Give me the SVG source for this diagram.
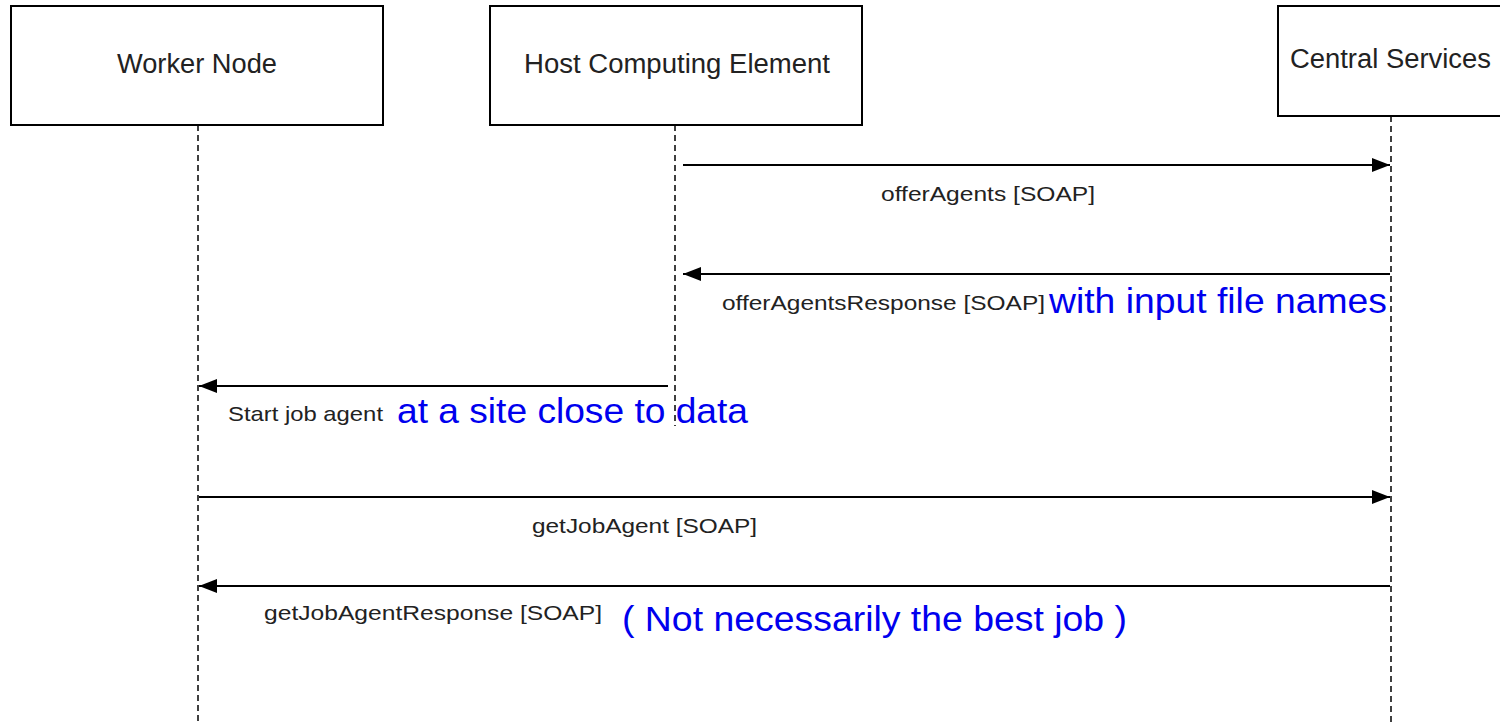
<svg xmlns="http://www.w3.org/2000/svg" width="1500" height="723" viewBox="0 0 1500 723">
<style>
.box{fill:#fff;stroke:#000;stroke-width:2}
.life{stroke:#000;stroke-width:1.5;stroke-dasharray:6 4;fill:none}
.msg{stroke:#000;stroke-width:2;fill:none}
.title{font-family:"Liberation Sans",Arial,sans-serif;font-size:27px;fill:#222}
.lbl{font-family:"Liberation Sans",Arial,sans-serif;font-size:21px;fill:#222}
.note{font-family:"Liberation Sans",Arial,sans-serif;font-size:35px;fill:#0000ee}
</style>
<defs>
<marker id="ah" viewBox="0 0 18 14" refX="18" refY="7" markerWidth="18" markerHeight="14" markerUnits="userSpaceOnUse" orient="auto">
<path d="M0,0 L18,7 L0,14 Z" fill="#000"/>
</marker>
</defs>
<rect width="1500" height="723" fill="#fff"/>
<g id="lifelines">
<line class="life" x1="198" y1="125" x2="198" y2="723"/>
<line class="life" x1="675" y1="125" x2="675" y2="426"/>
<line class="life" x1="1391" y1="116" x2="1391" y2="723"/>
</g>
<g id="worker-node">
<rect class="box" x="11" y="6" width="372" height="119"/>
<text class="title" x="197" y="73" text-anchor="middle" textLength="160" lengthAdjust="spacingAndGlyphs">Worker Node</text>
</g>
<g id="host-ce">
<rect class="box" x="490" y="6" width="372" height="119"/>
<text class="title" x="677" y="73" text-anchor="middle" textLength="306" lengthAdjust="spacingAndGlyphs">Host Computing Element</text>
</g>
<g id="central-services">
<rect class="box" x="1278" y="6" width="240" height="110"/>
<text class="title" x="1290" y="68" textLength="201" lengthAdjust="spacingAndGlyphs">Central Services</text>
</g>
<g id="connectors">
<line class="msg" x1="683" y1="165" x2="1390" y2="165" marker-end="url(#ah)"/>
<line class="msg" x1="1390" y1="274" x2="683" y2="274" marker-end="url(#ah)"/>
<line class="msg" x1="668" y1="386" x2="199" y2="386" marker-end="url(#ah)"/>
<line class="msg" x1="199" y1="497" x2="1390" y2="497" marker-end="url(#ah)"/>
<line class="msg" x1="1390" y1="586" x2="199" y2="586" marker-end="url(#ah)"/>
</g>
<g id="labels">
<text class="lbl" x="881" y="201" textLength="214" lengthAdjust="spacingAndGlyphs">offerAgents [SOAP]</text>
<text class="lbl" x="722" y="310" textLength="323" lengthAdjust="spacingAndGlyphs">offerAgentsResponse [SOAP]</text>
<text class="note" x="1049" y="313" textLength="338" lengthAdjust="spacingAndGlyphs">with input file names</text>
<text class="lbl" x="228" y="421" textLength="155" lengthAdjust="spacingAndGlyphs">Start job agent</text>
<text class="note" x="397" y="423" textLength="351" lengthAdjust="spacingAndGlyphs">at a site close to data</text>
<text class="lbl" x="532" y="533" textLength="225" lengthAdjust="spacingAndGlyphs">getJobAgent [SOAP]</text>
<text class="lbl" x="264" y="620" textLength="338" lengthAdjust="spacingAndGlyphs">getJobAgentResponse [SOAP]</text>
<text class="note" x="622" y="631" textLength="505" lengthAdjust="spacingAndGlyphs">( Not necessarily the best job )</text>
</g>
</svg>
